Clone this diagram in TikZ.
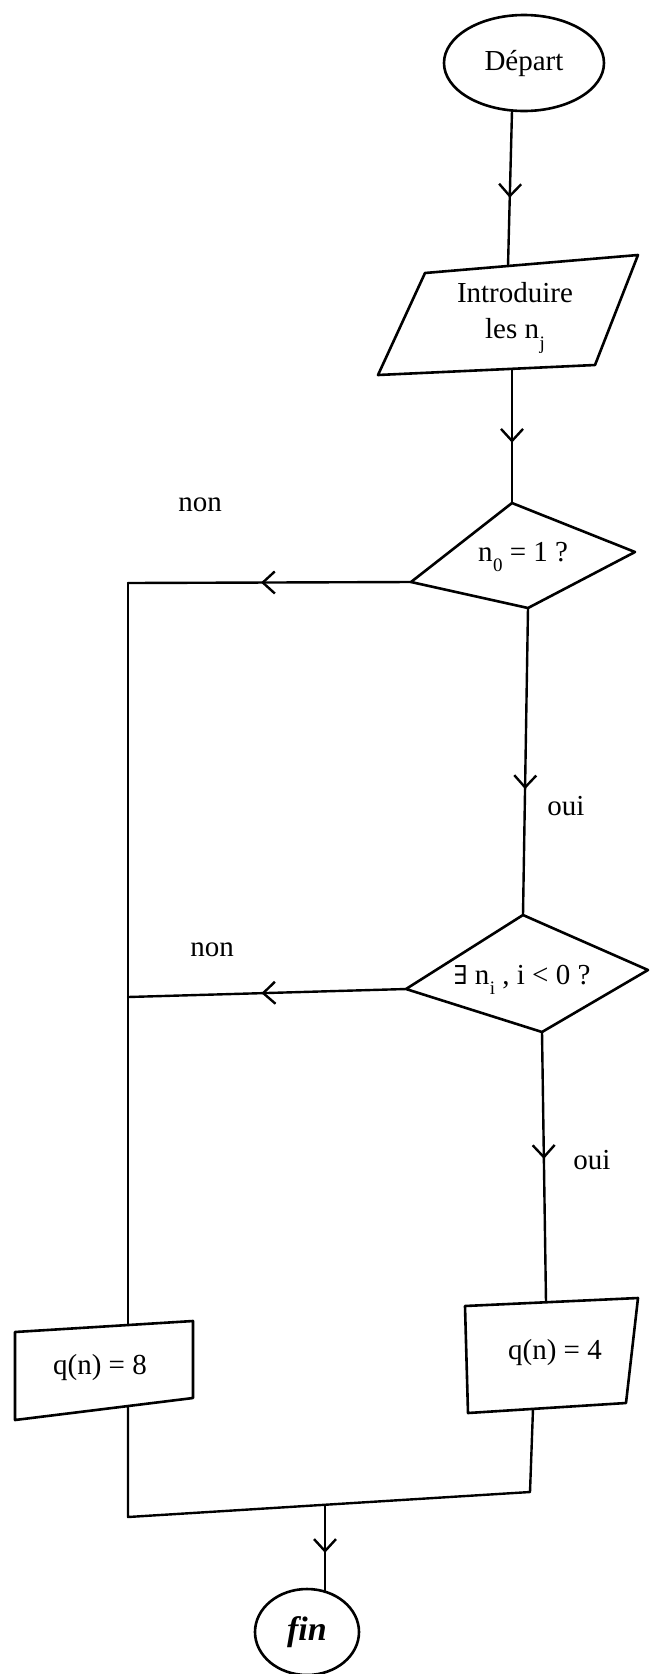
\documentclass[tikz,border=0pt]{standalone}
\usepackage{fontspec}
\setmainfont{Liberation Serif}
\newfontfamily\symfont{DejaVu Serif}
\usetikzlibrary{arrows.meta,decorations.markings,shapes.geometric}
\newcommand{\lowsub}[1]{\kern0.5pt\raisebox{-0.35em}{\fontsize{19}{19}\selectfont #1}}
\tikzset{
  ln/.style={line width=2.4pt, line join=round, line cap=round},
  shp/.style={line width=2.6pt, line join=round},
  lbl/.style={font=\fontsize{29}{36}\selectfont, inner sep=0pt},
  midarrow/.style={postaction={decorate,decoration={markings,
     mark=at position #1 with {\arrow[line width=2.4pt]{Straight Barb[length=12pt,width=22pt]}}}}},
}
\begin{document}
\begin{tikzpicture}[x=1pt,y=-1pt]
\useasboundingbox (0,0) rectangle (662,1674);
% start
\node[draw, ellipse, shp, minimum width=160pt, minimum height=96pt, inner sep=0pt, lbl] (dep) at (524,63) {Départ};
\coordinate (depout) at (512,111);
% input parallelogram
\coordinate (p1) at (425,273);
\coordinate (p2) at (638,255);
\coordinate (p3) at (595,365);
\coordinate (p4) at (378,375);
\draw[shp] (p1)--(p2)--(p3)--(p4)--cycle;
\node[lbl, align=center] (intro) at (515,318) {Introduire\\les n\lowsub{j}};
\coordinate (pin) at (508,266);
\coordinate (pout) at (512,369);
% diamond 1
\coordinate (d1t) at (512,503);
\coordinate (d1r) at (635,552);
\coordinate (d1b) at (528,608);
\coordinate (d1l) at (411,582);
\draw[shp] (d1t)--(d1r)--(d1b)--(d1l)--cycle;
\node[lbl] (q1) at (523,557) {n\lowsub{0} = 1 ?};
% diamond 2
\coordinate (d2t) at (523,915);
\coordinate (d2r) at (648,970);
\coordinate (d2b) at (542,1032);
\coordinate (d2l) at (406,989);
\draw[shp] (d2t)--(d2r)--(d2b)--(d2l)--cycle;
\node[lbl] (q2) at (522,980) {{\symfont\fontsize{26}{26}\selectfont ∃} n\lowsub{i} , i < 0 ?};
% left junctions
\coordinate (lj1) at (128,583);
\coordinate (lj2) at (128,997);
% box q(n)=8
\coordinate (b8a) at (15,1332);
\coordinate (b8b) at (193,1321);
\coordinate (b8c) at (193,1398);
\coordinate (b8d) at (15,1420);
\draw[shp] (b8a)--(b8b)--(b8c)--(b8d)--cycle;
\node[lbl] (t8) at (100,1368) {q(n) = 8};
\coordinate (b8in) at (128,1325);
\coordinate (b8out) at (128,1406);
% box q(n)=4
\coordinate (b4a) at (465,1306);
\coordinate (b4b) at (638,1298);
\coordinate (b4c) at (626,1403);
\coordinate (b4d) at (468,1413);
\draw[shp] (b4a)--(b4b)--(b4c)--(b4d)--cycle;
\node[lbl] (t4) at (555,1353) {q(n) = 4};
\coordinate (b4in) at (546,1302);
\coordinate (b4out) at (533,1409);
% merge
\coordinate (m1) at (128,1517);
\coordinate (m2) at (530,1492);
\coordinate (mj) at (325,1505);
% end
\node[draw, ellipse, shp, minimum width=104pt, minimum height=86pt, inner sep=0pt] (fin) at (307,1632) {\fontsize{34}{34}\selectfont\bfseries\itshape fin};
\coordinate (finin) at (325,1592);
% labels
\node[lbl] (non1) at (200,505) {non};
\node[lbl] (oui1) at (566,806) {oui};
\node[lbl] (non2) at (212,950) {non};
\node[lbl] (oui2) at (592,1160) {oui};
% connectors
\draw[ln, midarrow=0.56] (depout) -- (pin);
\draw[ln, midarrow=0.55] (pout) -- (d1t);
\draw[ln, midarrow=0.53] (d1l) -- (lj1);
\draw[ln, midarrow=0.59] (d1b) -- (d2t);
\draw[ln, midarrow=0.52] (d2l) -- (lj2);
\draw[ln, midarrow=0.47] (d2b) -- (b4in);
\draw[ln] (lj1) -- (b8in);
\draw[ln] (b4out) -- (m2) -- (m1) -- (b8out);
\draw[ln, midarrow=0.55] (mj) -- (finin);
\end{tikzpicture}
\end{document}
